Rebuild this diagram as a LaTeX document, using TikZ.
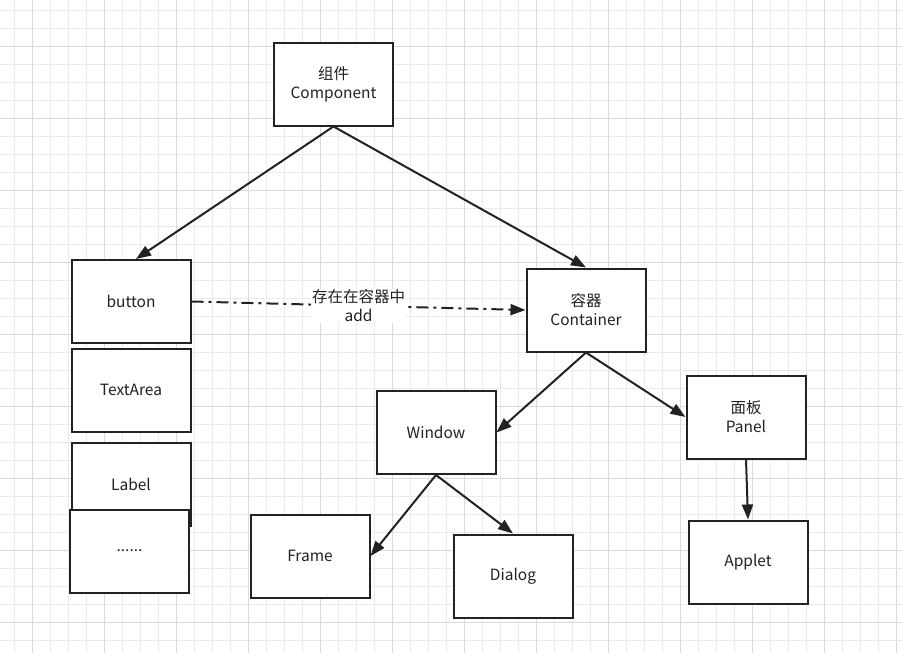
\documentclass[tikz,border=0pt]{standalone}
\usepackage{fontspec}
\setmainfont{Noto Sans CJK SC}
\usetikzlibrary{arrows.meta}

\definecolor{ink}{HTML}{222222}
\definecolor{gridminor}{HTML}{EBEBEB}
\definecolor{gridmajor}{HTML}{DADADA}

\tikzset{
  box/.style={draw=ink, line width=2pt, fill=white, text=ink,
    minimum width=119pt, minimum height=83pt, align=center,
    inner sep=2pt},
  link/.style={draw=ink, line width=2pt,
    -{Triangle[length=15pt,width=11pt]}},
  addlink/.style={link, dash pattern=on 12pt off 5pt on 3pt off 5pt}
}

\begin{document}
\begin{tikzpicture}[x=1pt, y=-1pt]

  \fontsize{15.5}{19}\selectfont

  \useasboundingbox (0,0) rectangle (902,653);
  \fill[white] (0,0) rectangle (902,653);

  % grid
  \foreach \gx in {14.3,32.3,...,902} \draw[gridminor, line width=0.8pt] (\gx,0) -- (\gx,653);
  \foreach \gy in {10.7,28.7,...,653} \draw[gridminor, line width=0.8pt] (0,\gy) -- (902,\gy);
  \foreach \gx in {32.3,104.3,...,902} \draw[gridmajor, line width=0.8pt] (\gx,0) -- (\gx,653);
  \foreach \gy in {46.7,118.7,...,653} \draw[gridmajor, line width=0.8pt] (0,\gy) -- (902,\gy);

  \node[box] (comp) at (333.5, 84) {组件\\Component};

  \node[box] (button)   at (131, 301.5) {button};
  \node[box] (textarea) at (131, 390) {TextArea};
  \node[box] (label)    at (131, 484.5) {Label};
  \node[box] (more)     at (129.5, 551) {......};

  \node[box] (container) at (586, 310) {容器\\Container};
  \node[box] (window)    at (436, 432.5) {Window};
  \node[box] (panel)     at (746, 417) {面板\\Panel};
  \node[box] (applet)    at (748, 562) {Applet};
  \node[box] (frame)     at (310, 556) {Frame};
  \node[box] (dialog)    at (513, 576) {Dialog};

  \draw[link] (comp.south) -- ([xshift=5pt]button.north); % comp->button
  \draw[link] (comp.south) -- (container.north); % comp->container

  \draw[addlink] (button.east) -- (container.west)
    node[midway, fill=white, text=ink, align=center, inner sep=1pt] {存在在容器中\\add}; % button->container

  \draw[link] (container.south) -- (window.east); % container->window
  \draw[link] (container.south) -- (panel.west); % container->panel
  \draw[link] (window.south) -- (frame.east); % window->frame
  \draw[link] (window.south) -- (dialog.north); % window->dialog
  \draw[link] (panel.south) -- (applet.north); % panel->applet

\end{tikzpicture}
\end{document}
